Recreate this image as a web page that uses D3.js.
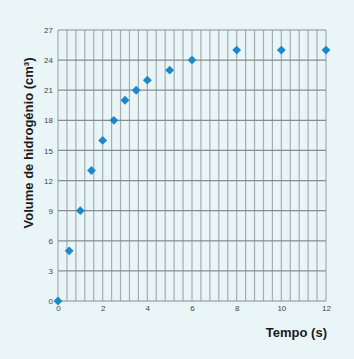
<!DOCTYPE html>
<html>
<head>
<meta charset="utf-8">
<script src="https://cdn.jsdelivr.net/npm/d3@7"></script>
<style>
  body { margin: 0; background: #eaf5f8; }
  svg { display: block; }
</style>
</head>
<body>
<svg id="chart" width="354" height="359"></svg>
<script>
// data
var tempo = [0, 0.5, 1, 1.5, 2, 2.5, 3, 3.5, 4, 5, 6, 8, 10, 12];
var volume = [0, 5, 9, 13, 16, 18, 20, 21, 22, 23, 24, 25, 25, 25];
var xTicks = [0, 2, 4, 6, 8, 10, 12];
var yTicks = [0, 3, 6, 9, 12, 15, 18, 21, 24, 27];
var xGridStep = 0.4;

var svg = d3.select("#chart");
var padLeft = 58, padRight = 326, padTop = 30, padBottom = 301;

var x = d3.scaleLinear().domain([0, 12]).range([padLeft, padRight]);
var y = d3.scaleLinear().domain([0, 27]).range([padBottom, padTop]);

// vertical grid lines
var vLines = d3.range(0, 12 + 0.001, xGridStep);
svg.append("g").selectAll("line")
    .data(vLines)
    .enter()
    .append("line")
    .attr("x1", d => x(d)).attr("x2", d => x(d))
    .attr("y1", y(0)).attr("y2", y(27))
    .attr("stroke", "#a4adb2")
    .attr("stroke-width", 1.2);

// horizontal grid lines
svg.append("g").selectAll("line")
    .data(yTicks)
    .enter()
    .append("line")
    .attr("x1", x(0)).attr("x2", x(12))
    .attr("y1", d => y(d)).attr("y2", d => y(d))
    .attr("stroke", "#858d91")
    .attr("stroke-width", 1.2);

// axes (labels only)
var xAxis = d3.axisBottom(x).tickValues(xTicks).tickSize(0).tickPadding(4);
var gx = svg.append("g")
    .attr("transform", "translate(0," + padBottom + ")")
    .call(xAxis);
var yAxis = d3.axisLeft(y).tickValues(yTicks).tickSize(0).tickPadding(5);
var gy = svg.append("g")
    .attr("transform", "translate(" + padLeft + ",0)")
    .call(yAxis);
[gx, gy].forEach(function (g) {
    g.select(".domain").remove();
    g.selectAll("text")
        .attr("fill", "#444")
        .style("font-family", "Liberation Sans, Arial, sans-serif")
        .style("font-size", "8px");
});

// points as diamonds
svg.append("g").selectAll("path")
    .data(tempo)
    .enter()
    .append("path")
    .attr("d", d3.symbol().type(d3.symbolDiamond2).size(50))
    .attr("transform", (d, i) => "translate(" + x(d) + "," + y(volume[i]) + ")")
    .attr("fill", "#1b88cc");

// titles
svg.append("text")
    .attr("transform", "translate(33,143) rotate(-90)")
    .attr("text-anchor", "middle")
    .style("font-family", "Liberation Sans, Arial, sans-serif")
    .style("font-size", "13px")
    .style("font-weight", "bold")
    .attr("fill", "#1a1a1a")
    .text("Volume de hidrogénio (cm³)");

svg.append("text")
    .attr("x", padRight + 1)
    .attr("y", 337)
    .attr("text-anchor", "end")
    .style("font-family", "Liberation Sans, Arial, sans-serif")
    .style("font-size", "13px")
    .style("font-weight", "bold")
    .attr("fill", "#1a1a1a")
    .text("Tempo (s)");
</script>
</body>
</html>
